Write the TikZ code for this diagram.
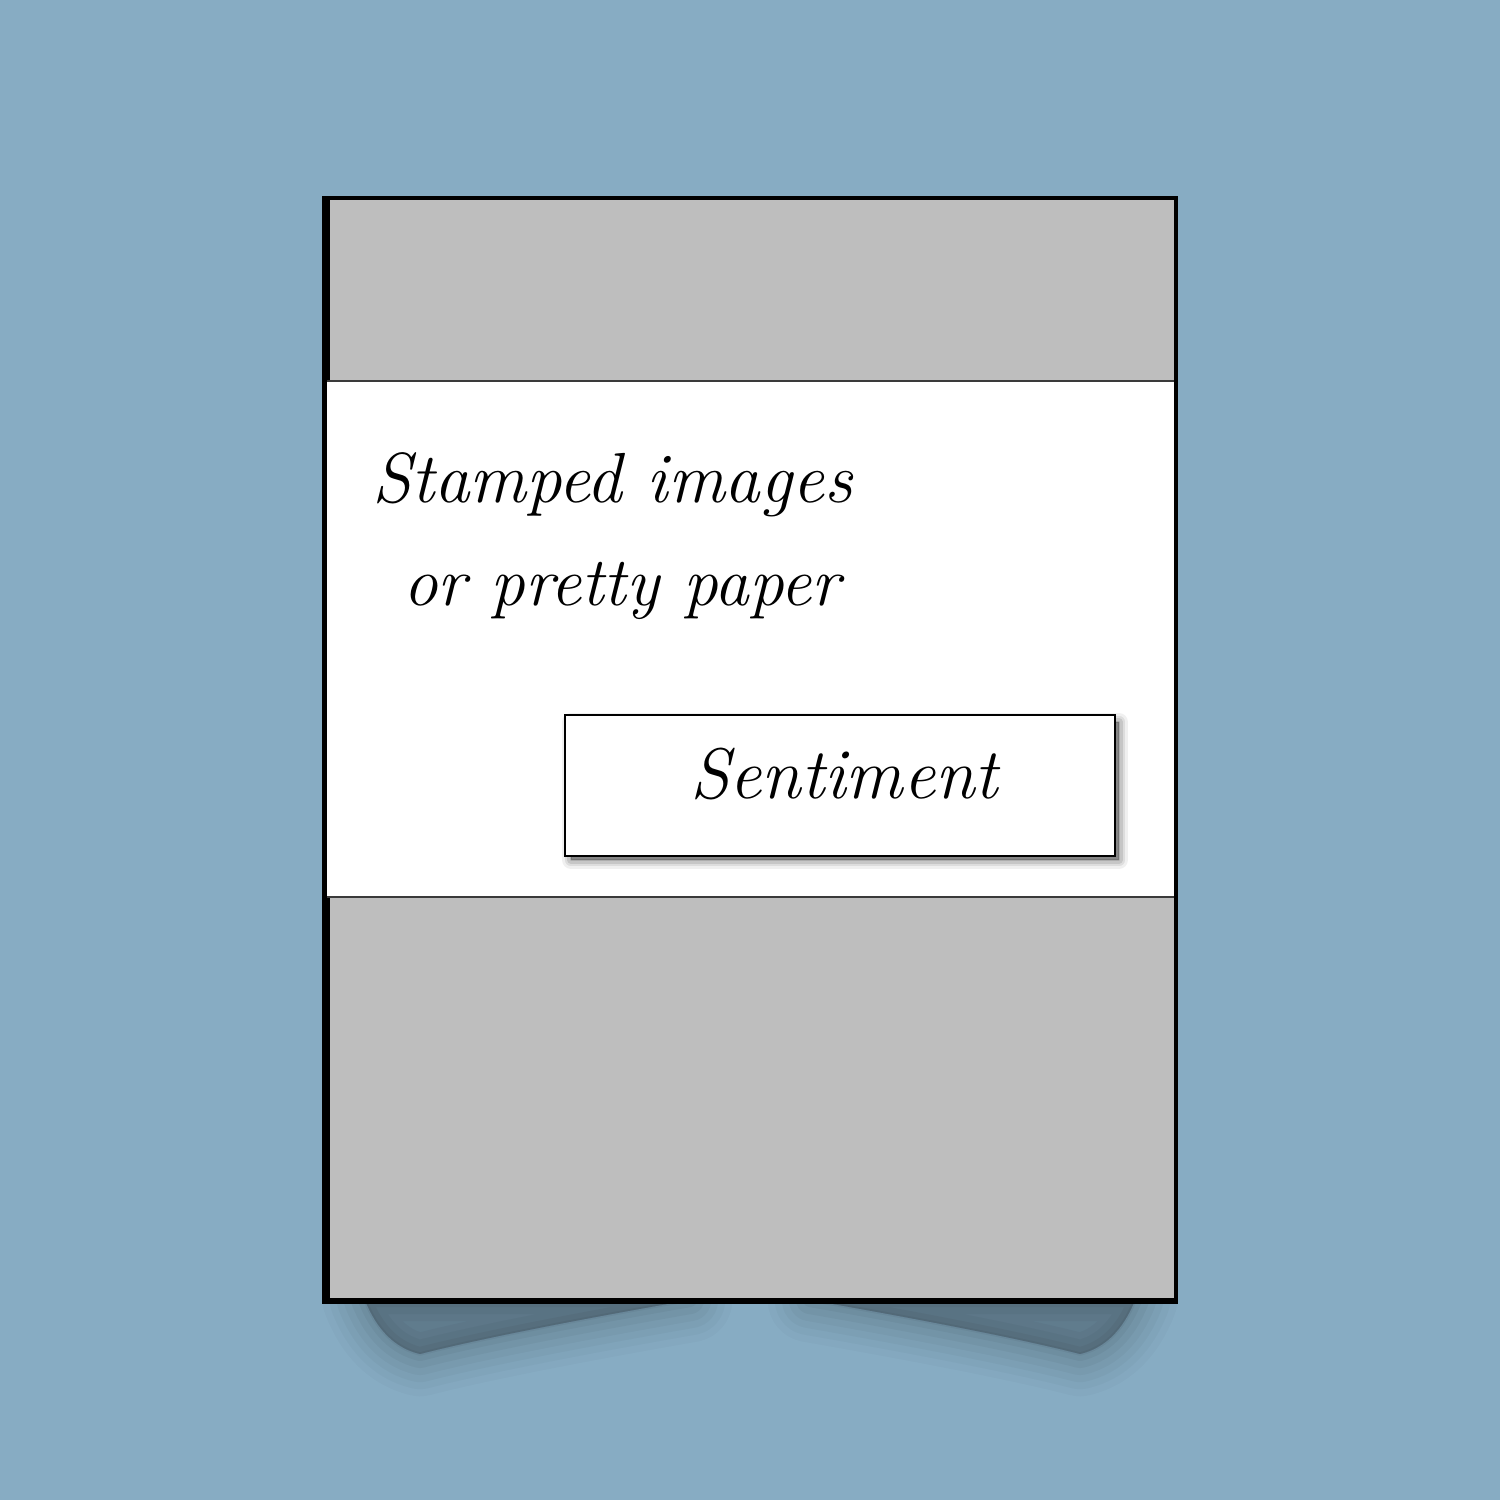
\documentclass[tikz,border=0pt]{standalone}
\usepackage{graphicx}
\newcommand\handfont{\itshape}
\definecolor{bgblue}{HTML}{87ACC3}
\definecolor{cardgray}{HTML}{BEBEBE}
\definecolor{bandline}{HTML}{3A3A3A}
\begin{document}
\begin{tikzpicture}[x=0.01cm,y=-0.01cm,
  handtext/.style={inner sep=0pt, outer sep=0pt, font=\handfont\fontsize{22}{26}\selectfont},
  sentbox/.style={draw=black, line width=0.7pt, fill=white, minimum width=550*0.01cm, minimum height=141*0.01cm, inner sep=0pt},
  softshadow/.style={fill=black, draw=black, line join=round, line cap=round}]
\useasboundingbox (0,0) rectangle (1500,1500);
\fill[bgblue] (0,0) rectangle (1500,1500);
% soft shadows under the card
\foreach \w/\o in {24pt/0.02, 20pt/0.024, 16pt/0.028, 12pt/0.032, 8pt/0.036, 4pt/0.04, 1pt/0.044}{
  \path[softshadow, line width=\w, opacity=\o]
    (365,1300) -- (690,1300) .. controls (610,1314) and (490,1336) .. (420,1354)
      .. controls (395,1348) and (377,1330) .. (365,1300) -- cycle;
  \path[softshadow, line width=\w, opacity=\o]
    (810,1300) -- (1135,1300) .. controls (1123,1330) and (1105,1348) .. (1080,1354)
      .. controls (1010,1336) and (890,1314) .. (810,1300) -- cycle;
}
% card
\fill[black] (322,196) rectangle (1178,1304);
\fill[cardgray] (330,200) rectangle (1174,1298);
\fill[white] (327,381) rectangle (1174,897);
\draw[bandline, line width=0.35pt] (327,381) -- (1174,381);
\draw[bandline, line width=0.35pt] (327,897) -- (1174,897);
% sentiment box shadow
\foreach \w/\o in {5pt/0.06, 3.5pt/0.08, 2pt/0.1, 0.8pt/0.12}{
  \path[softshadow, line width=\w, opacity=\o]
    (571,722) rectangle (1119,860);
}
\node[sentbox] (sent) at (840,785.5) {};
\node[handtext, anchor=base west] (senttext) at (690,798) {\resizebox{87.6pt}{!}{Sentiment}};
% main text
\node[handtext, anchor=base west] (line1) at (372,502) {\resizebox{136.6pt}{!}{Stamped images}};
\node[handtext, anchor=base west] (line2) at (403,605) {\resizebox{124.3pt}{!}{or pretty paper}};
\end{tikzpicture}
\end{document}
